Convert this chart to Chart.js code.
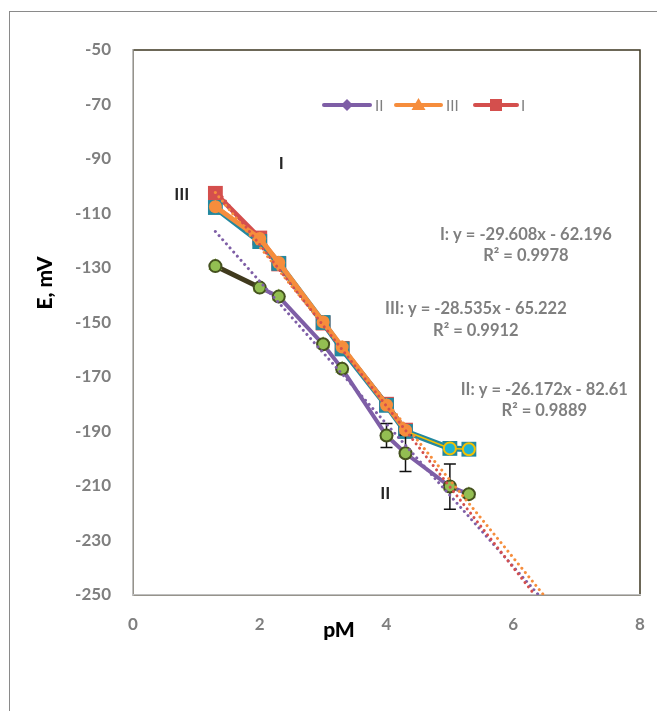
<!DOCTYPE html>
<html><head><meta charset="utf-8">
<script src="https://cdn.jsdelivr.net/npm/chart.js@4.4.0/dist/chart.umd.min.js"></script>
<style>html,body{margin:0;padding:0;background:#fff;}#wrap{position:relative;width:657px;height:711px;}</style>
</head><body><div id="wrap"><canvas id="c" width="657" height="711"></canvas></div>
<script>
// ---- data ----
const pM = [1.3, 2, 2.3, 3, 3.3, 4, 4.3, 5, 5.3];
const seriesII = [-129.3, -137.2, -140.5, -158.0, -167.0, -191.5, -198.0, -210.2, -213.0];
const errorII = [0, 0, 0, 0, 0, 4.4, 6.7, 8.3, 0];
const pMShort = [1.3, 2, 2.3, 3, 3.3, 4, 4.3];
const seriesIII = [-107.5, -119.2, -128.0, -149.8, -159.0, -180.3, -189.5];
const seriesI = [-102.6, -119.0, -128.5, -150.2, -159.5, -180.0, -189.5];
const seriesExtra = [-107.8, -120.3, -128.3, -150.0, -159.7, -180.4, -190.0, -196.2, -196.5];
const pMTail = [4.3, 5, 5.3];
const seriesTail = [-189.8, -196.2, -196.5];
const trendIx = [1.3, 6.34], trendIy = [-100.7, -250];
const trendIIIx = [1.3, 6.48], trendIIIy = [-102.3, -250];
const trendIIx = [1.3, 6.40], trendIIy = [-116.6, -250];
const yTicks = [-50, -70, -90, -110, -130, -150, -170, -190, -210, -230, -250];
const xTicks = [0, 2, 4, 6, 8];
const legendNames = ['II', 'III', 'I'];
const eqI = ['I: y = -29.608x - 62.196', 'R² = 0.9978'];
const eqIII = ['III: y = -28.535x - 65.222', 'R² = 0.9912'];
const eqII = ['II: y = -26.172x - 82.61', 'R² = 0.9889'];
const curveLabels = [{t: 'I', x: 2.34, y: -91.5}, {t: 'III', x: 0.77, y: -103.2}, {t: 'II', x: 3.98, y: -212.6}];

// ---- styles ----
const C = {purple: '#7e5ea6', olive: '#403a1e', orange: '#f68d3c', red: '#d44f4d', teal: '#23889f',
  green: '#93be52', greenEdge: '#45521f', cyan: '#1fb4cf', yellow: '#f5c000', gray: '#7f7f7f'};
const FONT = 'Lato, "Open Sans", sans-serif';
const xy = (xs, ys) => ys.map((y, i) => ({x: xs[i], y}));
const dotted = {borderWidth: 3, borderDash: [0.01, 5.5], borderCapStyle: 'round', pointRadius: 0, fill: false};

const deco = {
  id: 'deco',
  beforeDraw(chart) {
    const ctx = chart.ctx, a = chart.chartArea;
    ctx.save();
    ctx.fillStyle = '#fff'; ctx.fillRect(0, 0, chart.width, chart.height);
    ctx.strokeStyle = '#8a8a8a'; ctx.lineWidth = 1;
    ctx.strokeRect(9.5, 11.5, 800, 800);
    ctx.strokeStyle = '#3d3620'; ctx.lineWidth = 1.5;
    ctx.strokeRect(a.left, a.top, a.right - a.left, a.bottom - a.top);
    ctx.restore();
  },
  beforeDatasetDraw(chart, args) {
    if (chart.data.datasets[args.index].label !== 'greenII') return;
    const ctx = chart.ctx, xs = chart.scales.x, ys = chart.scales.y;
    ctx.save(); ctx.strokeStyle = '#111'; ctx.lineWidth = 1.5;
    errorII.forEach((e, i) => {
      if (!e) return;
      const px = xs.getPixelForValue(pM[i]);
      const t = ys.getPixelForValue(seriesII[i] + e), b = ys.getPixelForValue(seriesII[i] - e);
      ctx.beginPath();
      ctx.moveTo(px, t); ctx.lineTo(px, b);
      ctx.moveTo(px - 6, t); ctx.lineTo(px + 6, t);
      ctx.moveTo(px - 6, b); ctx.lineTo(px + 6, b);
      ctx.stroke();
    });
    ctx.restore();
  },
  afterDraw(chart) {
    const ctx = chart.ctx, xs = chart.scales.x, ys = chart.scales.y, a = chart.chartArea;
    ctx.save();
    ctx.fillStyle = C.gray; ctx.font = 'bold 16.5px ' + FONT; ctx.textAlign = 'center'; ctx.textBaseline = 'middle';
    const eq = (lines, x, y1, y2) => {
      ctx.fillText(lines[0], xs.getPixelForValue(x), ys.getPixelForValue(y1));
      ctx.fillText(lines[1], xs.getPixelForValue(x), ys.getPixelForValue(y2));
    };
    eq(eqI, 6.20, -117.9, -125.6);
    eq(eqIII, 5.41, -145.0, -153.1);
    eq(eqII, 6.49, -174.8, -182.5);
    ctx.fillStyle = '#262626'; ctx.font = 'bold 17px ' + FONT;
    curveLabels.forEach(l => ctx.fillText(l.t, xs.getPixelForValue(l.x), ys.getPixelForValue(l.y)));
    ctx.fillStyle = '#000'; ctx.font = '900 21px ' + FONT;
    ctx.fillText('pM', xs.getPixelForValue(3.25), a.bottom + 35);
    ctx.save(); ctx.translate(45, 283); ctx.rotate(-Math.PI / 2); ctx.fillText('E, mV', 0, 0); ctx.restore();
    const ly = 105;
    const items = [
      {x0: 324, x1: 370, col: C.purple, m: 'diamond', tx: 375},
      {x0: 396, x1: 441, col: C.orange, m: 'tri', tx: 446},
      {x0: 475, x1: 517, col: C.red, m: 'sq', tx: 521}
    ];
    items.forEach((it, i) => {
      ctx.strokeStyle = it.col; ctx.lineWidth = 4; ctx.lineCap = 'round';
      ctx.beginPath(); ctx.moveTo(it.x0, ly); ctx.lineTo(it.x1, ly); ctx.stroke();
      const cx = (it.x0 + it.x1) / 2; ctx.fillStyle = it.col; ctx.beginPath();
      if (it.m === 'diamond') { ctx.moveTo(cx, ly - 6); ctx.lineTo(cx + 6, ly); ctx.lineTo(cx, ly + 6); ctx.lineTo(cx - 6, ly); }
      else if (it.m === 'tri') { ctx.moveTo(cx, ly - 7); ctx.lineTo(cx + 7, ly + 5); ctx.lineTo(cx - 7, ly + 5); }
      else { ctx.rect(cx - 6, ly - 6, 12, 12); }
      ctx.closePath(); ctx.fill();
      ctx.fillStyle = C.gray; ctx.font = '15px ' + FONT; ctx.textAlign = 'left';
      ctx.fillText(legendNames[i], it.tx, ly + 1);
    });
    ctx.restore();
  }
};

new Chart(document.getElementById('c'), {
  type: 'line',
  data: {datasets: [
    Object.assign({label: 'trendI', data: xy(trendIx, trendIy), borderColor: C.red, order: 0}, dotted),
    Object.assign({label: 'trendIII', data: xy(trendIIIx, trendIIIy), borderColor: C.orange, order: 1}, dotted),
    Object.assign({label: 'trendII', data: xy(trendIIx, trendIIy), borderColor: C.purple, order: 2}, dotted),
    {label: 'orangeDots', data: xy(pMShort, seriesIII), showLine: false, pointStyle: 'circle', pointRadius: 6.5,
      pointBackgroundColor: C.orange, pointBorderWidth: 0, order: 3},
    {label: 'III', data: xy(pMShort, seriesIII), borderColor: C.orange, borderWidth: 5, pointStyle: 'triangle',
      pointRadius: 7, pointBackgroundColor: C.orange, pointBorderWidth: 0, order: 4},
    {label: 'greenII', data: xy(pM, seriesII), showLine: false, pointStyle: 'circle', pointRadius: 6,
      pointBackgroundColor: C.green, pointBorderColor: C.greenEdge, pointBorderWidth: 2, order: 5},
    {label: 'greenTri', data: xy(pM, seriesII), showLine: false, pointStyle: 'triangle', pointRadius: 8,
      pointBackgroundColor: C.green, pointBorderWidth: 0, order: 5.5},
    {label: 'II', data: xy(pM, seriesII), borderColor: C.purple, borderWidth: 4, pointStyle: 'rectRot',
      pointRadius: 7, pointBackgroundColor: C.purple, pointBorderWidth: 0, order: 6,
      segment: {borderColor: c => c.p0DataIndex === 0 ? C.olive : undefined, borderWidth: c => c.p0DataIndex === 0 ? 5 : undefined}},
    {label: 'tail', data: xy(pMTail, seriesTail), borderColor: C.yellow, borderWidth: 1.5, pointStyle: 'circle',
      pointRadius: [0, 6, 6], pointBackgroundColor: C.cyan, pointBorderColor: C.yellow, pointBorderWidth: 2, order: 7},
    {label: 'extra', data: xy(pM, seriesExtra), borderColor: C.teal, borderWidth: 6, pointStyle: 'rect',
      pointRadius: 10.5, pointBackgroundColor: C.teal, pointBorderWidth: 0, order: 8},
    {label: 'I', data: xy(pMShort, seriesI), borderColor: C.red, borderWidth: 5, pointStyle: 'rect',
      pointRadius: 10.5, pointBackgroundColor: C.red, pointBorderWidth: 0, order: 9}
  ]},
  options: {
    responsive: false, animation: false, devicePixelRatio: 1,
    layout: {autoPadding: false, padding: {left: 0, top: 50, right: 17, bottom: 0}},
    plugins: {legend: {display: false}, tooltip: {enabled: false}},
    elements: {line: {tension: 0}},
    scales: {
      x: {type: 'linear', min: 0, max: 8,
        afterBuildTicks: s => { s.ticks = xTicks.map(v => ({value: v})); },
        afterFit: s => { s.height = 116; s.paddingLeft = 0; s.paddingRight = 0; },
        grid: {display: false, drawTicks: false},
        border: {display: true, color: '#bfbfbf', width: 1.5},
        ticks: {color: C.gray, font: {family: FONT, size: 17, weight: 'bold'}, padding: 19, maxRotation: 0}},
      y: {type: 'linear', min: -250, max: -50,
        afterBuildTicks: s => { s.ticks = yTicks.map(v => ({value: v})); },
        afterFit: s => { s.width = 133; s.paddingTop = 0; s.paddingBottom = 0; },
        grid: {display: false, drawTicks: false},
        border: {display: true, color: '#bfbfbf', width: 1.5},
        ticks: {color: C.gray, font: {family: FONT, size: 17, weight: 'bold'}, padding: 22}}
    }
  },
  plugins: [deco]
});
</script></body></html>
